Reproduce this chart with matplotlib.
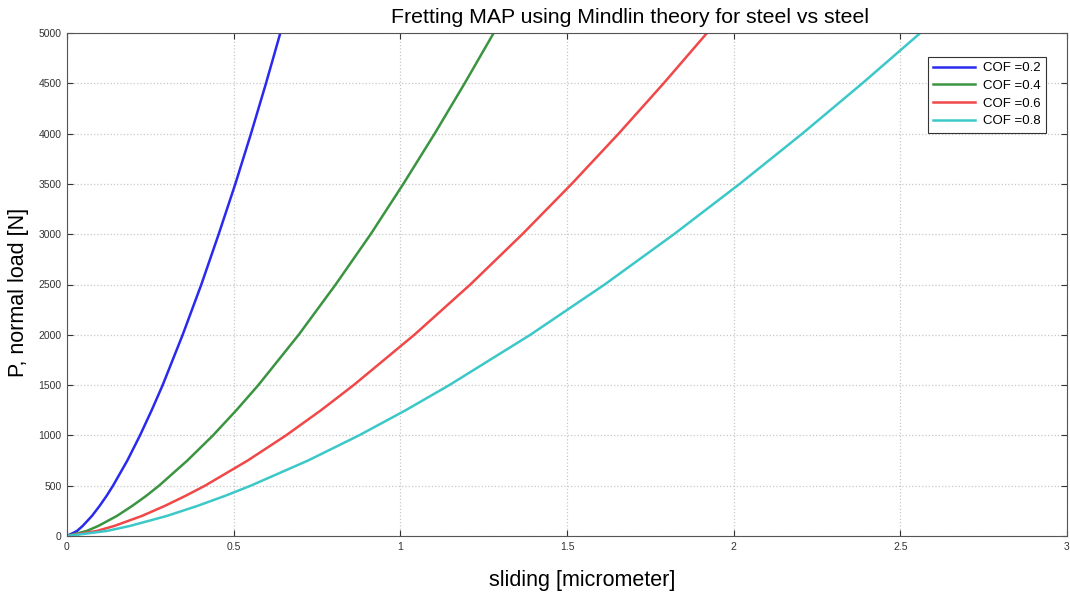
import matplotlib.pyplot as plt

load = [0, 50, 100, 200, 300, 400, 500, 750, 1000, 1250, 1500, 2000, 2500,
        3000, 3500, 4000, 4500, 5000]  # N

slide_02 = [0, 0.030, 0.047, 0.075, 0.098, 0.119, 0.138, 0.181, 0.219, 0.254,
            0.287, 0.347, 0.403, 0.455, 0.505, 0.552, 0.597, 0.640]
slide_04 = [0, 0.059, 0.094, 0.150, 0.196, 0.238, 0.276, 0.361, 0.438, 0.508,
            0.574, 0.695, 0.806, 0.911, 1.009, 1.103, 1.193, 1.280]
slide_06 = [0, 0.089, 0.142, 0.225, 0.294, 0.356, 0.414, 0.542, 0.657, 0.762,
            0.860, 1.042, 1.210, 1.366, 1.514, 1.655, 1.790, 1.920]
slide_08 = [0, 0.119, 0.189, 0.300, 0.392, 0.475, 0.551, 0.723, 0.876, 1.016,
            1.147, 1.390, 1.613, 1.821, 2.018, 2.206, 2.386, 2.560]

labels = ['COF =0.2', 'COF =0.4', 'COF =0.6', 'COF =0.8']
xticks = [0, 0.5, 1, 1.5, 2, 2.5, 3]
xticklabels = ['0', '0.5', '1', '1.5', '2', '2.5', '3']
yticks = list(range(0, 5001, 500))

plt.rcParams['font.family'] = ['Liberation Sans', 'DejaVu Sans']

fig = plt.figure(figsize=(10.7, 5.94), dpi=100)
ax = fig.add_axes([67 / 1070, 1 - 536 / 594, 1000 / 1070, 503 / 594])

ax.plot(slide_02, load, color='#2a2aee', lw=1.8, label=labels[0])
ax.plot(slide_04, load, color='#3a9440', lw=1.8, label=labels[1])
ax.plot(slide_06, load, color='#f04848', lw=1.8, label=labels[2])
ax.plot(slide_08, load, color='#3cc8c8', lw=1.8, label=labels[3])

ax.set_xlim(0, 3)
ax.set_ylim(0, 5000)
ax.set_xticks(xticks)
ax.set_xticklabels(xticklabels)
ax.set_yticks(yticks)
ax.tick_params(direction='in', length=4, labelsize=7.5, colors='#333333',
               top=True, right=True, pad=4)
ax.grid(True, color='#c8c8c8', ls=':', lw=0.9)
for s in ax.spines.values():
    s.set_color('#555555')
    s.set_linewidth(0.8)

ax.set_title('Fretting MAP using Mindlin theory for steel vs steel',
             fontsize=15.3, x=0.563, pad=7)
ax.set_xlabel('sliding [micrometer]', fontsize=15.5)
ax.xaxis.set_label_coords(0.515, -0.068)
ax.set_ylabel('P, normal load [N]', fontsize=15.5)
ax.yaxis.set_label_coords(-0.038, 0.485)

leg = ax.legend(loc='upper right', bbox_to_anchor=(0.979, 0.953),
                fontsize=9.5, fancybox=False, framealpha=1,
                edgecolor='#333333', handlelength=3.2, handletextpad=0.6,
                borderpad=0.4, labelspacing=0.42, borderaxespad=0)
leg.get_frame().set_linewidth(0.8)

fig.savefig('out.png', dpi=100)
